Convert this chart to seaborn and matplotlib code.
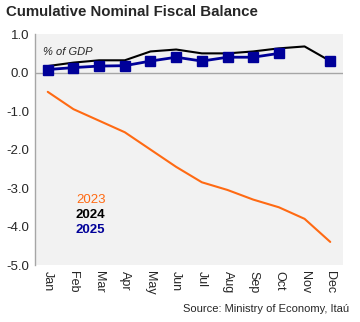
import numpy as np
import pandas as pd
import matplotlib
matplotlib.use("Agg")
import matplotlib.pyplot as plt
import seaborn as sns

months = ["Jan", "Feb", "Mar", "Apr", "May", "Jun", "Jul", "Aug", "Sep", "Oct", "Nov", "Dec"]
bal_2023 = [-0.5, -0.95, -1.25, -1.55, -2.0, -2.45, -2.85, -3.05, -3.3, -3.5, -3.8, -4.4]
bal_2024 = [0.17, 0.26, 0.32, 0.32, 0.55, 0.6, 0.5, 0.5, 0.55, 0.63, 0.68, 0.3]
bal_2025 = [0.08, 0.13, 0.17, 0.18, 0.3, 0.4, 0.3, 0.4, 0.4, 0.5, np.nan, 0.3]

c2023, c2024, c2025 = "#ff6a13", "#000000", "#000099"

sns.set_theme(style="white")
plt.rcParams["font.family"] = ["Liberation Sans", "DejaVu Sans"]

fig = plt.figure(figsize=(3.6, 3.22), dpi=100)
ax = fig.add_axes([0.097, 0.177, 0.856, 0.717])
ax.set_facecolor("#f2f2f2")

x = np.arange(len(months))
sns.lineplot(x=x, y=bal_2023, ax=ax, color=c2023, lw=1.5)
sns.lineplot(x=x, y=bal_2024, ax=ax, color=c2024, lw=1.5)
# 2025: connected Jan-Oct, separate December point
ax.plot(x, bal_2025, color=c2025, lw=2, marker="s", ms=7.5,
        markerfacecolor=c2025, markeredgecolor=c2025)

ax.axhline(0, color="#a6a6a6", lw=1, zorder=0)

ax.set_xlim(-0.5, 11.5)
ax.set_ylim(-5, 1)
ax.set_yticks(np.arange(-5, 1.01, 1))
ax.set_yticklabels([f"{v:.1f}" for v in np.arange(-5, 1.01, 1)], fontsize=9.5)
ax.set_xticks(x)
ax.set_xticklabels(months, rotation=270, fontsize=9)
ax.tick_params(axis="both", length=0, pad=4)

for s in ["top", "right", "bottom"]:
    ax.spines[s].set_visible(False)
ax.spines["left"].set_color("#a6a6a6")
ax.spines["left"].set_linewidth(1)

ax.text(0.025, 0.922, "% of GDP", transform=ax.transAxes, fontsize=8,
        style="italic", va="center")
ax.text(0.133, 0.28, "2023", transform=ax.transAxes, fontsize=9.5,
        color=c2023, va="center")
ax.text(0.133, 0.215, "2024", transform=ax.transAxes, fontsize=9.5,
        color=c2024, va="center", fontweight="bold")
ax.text(0.133, 0.15, "2025", transform=ax.transAxes, fontsize=9.5,
        color=c2025, va="center", fontweight="bold")

fig.text(0.017, 0.963, "Cumulative Nominal Fiscal Balance", fontsize=10.8,
         fontweight="bold", va="center")
fig.text(0.97, 0.04, "Source: Ministry of Economy, Itaú", fontsize=8,
         ha="right", va="center")

fig.savefig("out.png", dpi=100)
